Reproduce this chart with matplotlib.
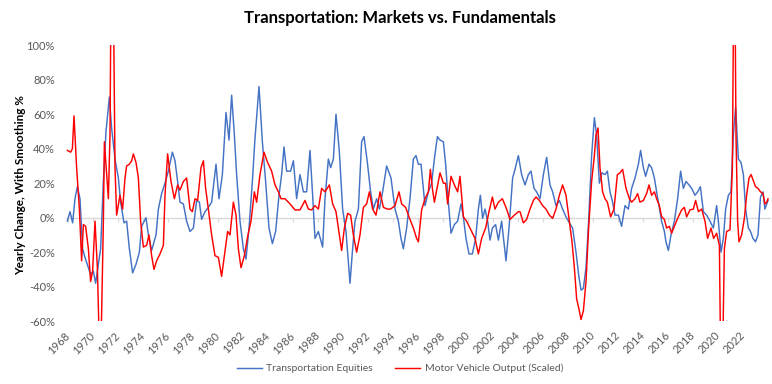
import matplotlib
matplotlib.use("Agg")
import matplotlib.pyplot as plt
from matplotlib.ticker import FuncFormatter


# =====================================================
# DATA (yearly change in %)
# =====================================================
equity_years = [
    1967.95, 1968.16, 1968.37, 1968.56, 1968.75, 1968.96, 1969.17, 1969.36, 1969.63, 1969.81,
    1970.03, 1970.21, 1970.43, 1970.61, 1970.83, 1971.04, 1971.31, 1971.49, 1971.76, 1972.03,
    1972.21, 1972.48, 1972.69, 1972.91, 1973.17, 1973.44, 1973.71, 1973.89, 1974.24, 1974.43,
    1974.69, 1975.04, 1975.23, 1975.49, 1975.76, 1976.03, 1976.35, 1976.56, 1976.77, 1976.96,
    1977.23, 1977.49, 1977.76, 1978.03, 1978.29, 1978.51, 1978.69, 1978.96, 1979.23, 1979.49,
    1979.84, 1980.08, 1980.35, 1980.64, 1980.88, 1981.09, 1981.31, 1981.49, 1981.76, 1982.03,
    1982.24, 1982.48, 1982.75, 1982.96, 1983.28, 1983.55, 1983.81, 1984.08, 1984.35, 1984.61,
    1984.88, 1985.09, 1985.28, 1985.49, 1985.81, 1986.03, 1986.29, 1986.56, 1986.83, 1987.09,
    1987.36, 1987.57, 1987.76, 1988.03, 1988.37, 1988.56, 1988.83, 1989.01, 1989.23, 1989.44,
    1989.71, 1989.97, 1990.24, 1990.56, 1990.77, 1990.96, 1991.23, 1991.49, 1991.68, 1991.95,
    1992.21, 1992.43, 1992.69, 1992.91, 1993.17, 1993.49, 1993.84, 1994.16, 1994.43, 1994.64,
    1994.83, 1995.09, 1995.36, 1995.63, 1995.84, 1996.03, 1996.24, 1996.56, 1996.83, 1997.09,
    1997.31, 1997.55, 1997.76, 1998.03, 1998.21, 1998.43, 1998.64, 1998.91, 1999.17, 1999.44,
    1999.63, 1999.84, 2000.08, 2000.35, 2000.61, 2000.83, 2000.99, 2001.17, 2001.36, 2001.57,
    2001.76, 2001.95, 2002.21, 2002.43, 2002.69, 2003.04, 2003.28, 2003.57, 2003.76, 2004.03,
    2004.29, 2004.56, 2004.83, 2005.04, 2005.28, 2005.49, 2005.76, 2006.03, 2006.29, 2006.56,
    2006.77, 2007.04, 2007.31, 2007.57, 2007.84, 2008.11, 2008.37, 2008.64, 2008.85, 2009.04,
    2009.23, 2009.44, 2009.65, 2009.89, 2010.11, 2010.29, 2010.51, 2010.72, 2010.96, 2011.15,
    2011.36, 2011.57, 2011.76, 2012.03, 2012.29, 2012.56, 2012.83, 2013.09, 2013.36, 2013.63,
    2013.81, 2014.03, 2014.21, 2014.48, 2014.69, 2014.91, 2015.09, 2015.28, 2015.49, 2015.71,
    2015.84, 2016.03, 2016.24, 2016.51, 2016.77, 2017.01, 2017.23, 2017.44, 2017.68, 2017.89,
    2018.16, 2018.37, 2018.59, 2018.83, 2019.09, 2019.36, 2019.63, 2019.89, 2020.03, 2020.24,
    2020.43, 2020.61, 2020.83, 2021.04, 2021.23, 2021.41, 2021.63, 2021.84, 2022.03, 2022.21,
    2022.43, 2022.60, 2022.80, 2023.00, 2023.20, 2023.40, 2023.60, 2023.75, 2023.90, 2024.00,
]
equity_values = [
    -2, 3.5, -3, 11, 18, 11, -18, -23, -29, -33,
    -31, -38, -27, -18, 21, 50, 70, 52, 34, 23,
    9, -3, -2, -18, -32, -27, -20, -5, 0, -10,
    -19, -10, 5, 14, 20, 27, 38, 33, 21, 9,
    8, -2, -8, -6, 10, 9, -1, 3.5, 6, 9,
    31, 11, 25, 61, 45, 71, 48, 25, -2, -18,
    -24, -6, 21, 46, 76, 44, 21, -6, -15, -8,
    13, 25, 41, 27, 27, 33, 11, 25, 15, 15,
    39, 13, -12, -8, -17, 11, 34, 29, 34, 60,
    38, 5, -8, -38, -18, -2, 5, 44, 47, 32,
    15, 5, 11, 5, 15, 30, 23, 5, -2, -12,
    -18, -6, 11, 34, 36, 31, 31, 7, 15, 20,
    34, 47, 45, 44, 31, 9, -9, -4, -2, 8,
    0.5, -12, -21, -21, -12, 5, 13, -0.4, 5, -2,
    -13, -6, -4, -13, -2, -25, -6, 23, 28, 36,
    25, 19, 25, 27, 17, 15, 11, 25, 35, 19,
    15, 7, 10, 5, 0.5, -3, -6, -20, -33, -42,
    -41, -29, -2, 36, 58, 48, 20, 26, 25, 27,
    15, 9, 1.5, 1.5, -5, 7, 5, 17, 23, 31,
    39, 29, 24, 31, 29, 23, 15, 7, -2, -8,
    -14, -19, -10, -2, 11, 27, 17, 21, 19, 17,
    13, 15, 18, 3.5, 1.5, -2, -6, 7, -2, -20,
    -12, 5, 13, 15, 48, 64, 34, 32, 25, 5,
    -6, -8, -12, -14, -10, 12, 15, 5, 8, 10,
]

vehicle_years = [
    1967.95, 1968.21, 1968.35, 1968.48, 1968.69, 1968.91, 1969.09, 1969.23, 1969.41, 1969.63,
    1969.81, 1969.97, 1970.16, 1970.35, 1970.51, 1970.64, 1970.83, 1970.91, 1971.09, 1971.23,
    1971.36, 1971.44, 1971.63, 1971.76, 1971.89, 1972.16, 1972.37, 1972.56, 1972.69, 1972.91,
    1973.09, 1973.23, 1973.44, 1973.63, 1973.81, 1974.03, 1974.29, 1974.48, 1974.69, 1974.88,
    1975.09, 1975.36, 1975.63, 1975.76, 1975.97, 1976.24, 1976.51, 1976.77, 1976.96, 1977.23,
    1977.49, 1977.76, 1977.95, 1978.16, 1978.37, 1978.64, 1978.83, 1979.01, 1979.23, 1979.49,
    1979.76, 1980.03, 1980.29, 1980.51, 1980.77, 1980.96, 1981.23, 1981.44, 1981.63, 1981.84,
    1982.11, 1982.37, 1982.64, 1982.91, 1983.09, 1983.36, 1983.68, 1983.97, 1984.29, 1984.56,
    1984.83, 1985.04, 1985.36, 1985.76, 1986.16, 1986.56, 1986.96, 1987.23, 1987.49, 1987.76,
    1988.03, 1988.29, 1988.56, 1988.91, 1989.17, 1989.44, 1989.63, 1989.89, 1990.11, 1990.37,
    1990.61, 1990.83, 1991.09, 1991.36, 1991.63, 1991.89, 1992.11, 1992.37, 1992.64, 1992.96,
    1993.23, 1993.55, 1993.81, 1994.16, 1994.48, 1994.69, 1995.01, 1995.28, 1995.63, 1995.89,
    1996.03, 1996.29, 1996.56, 1996.83, 1996.99, 1997.15, 1997.31, 1997.57, 1997.76, 1998.03,
    1998.21, 1998.37, 1998.64, 1998.91, 1999.17, 1999.36, 1999.63, 1999.89, 2000.16, 2000.56,
    2000.83, 2001.09, 2001.41, 2001.68, 2001.95, 2002.16, 2002.43, 2002.75, 2003.09, 2003.36,
    2003.71, 2004.03, 2004.16, 2004.43, 2004.69, 2004.96, 2005.23, 2005.44, 2005.71, 2005.97,
    2006.24, 2006.51, 2006.77, 2007.04, 2007.31, 2007.57, 2007.84, 2008.11, 2008.32, 2008.51,
    2008.69, 2008.88, 2009.04, 2009.23, 2009.44, 2009.65, 2009.89, 2010.11, 2010.24, 2010.40,
    2010.56, 2010.77, 2010.96, 2011.15, 2011.41, 2011.68, 2011.95, 2012.16, 2012.37, 2012.64,
    2012.91, 2013.09, 2013.36, 2013.57, 2013.76, 2014.03, 2014.29, 2014.48, 2014.69, 2014.91,
    2015.09, 2015.31, 2015.49, 2015.71, 2015.89, 2016.11, 2016.29, 2016.56, 2016.83, 2017.09,
    2017.31, 2017.49, 2017.76, 2018.03, 2018.21, 2018.43, 2018.69, 2018.96, 2019.17, 2019.44,
    2019.65, 2019.89, 2020.11, 2020.21, 2020.37, 2020.51, 2020.69, 2020.96, 2021.15, 2021.25,
    2021.36, 2021.44, 2021.57, 2021.68, 2021.89, 2022.11, 2022.29, 2022.48, 2022.65, 2022.80,
    2023.00, 2023.20, 2023.40, 2023.60, 2023.75, 2023.90, 2024.00,
]
vehicle_values = [
    39, 38, 40, 59, 29, 5, -25, -4, -5, -18,
    -37, -31, -2, -29, -75, -75, -2, 44, 25, 11,
    48, 130, 130, 29, 1.5, 13, 5, 23, 30, 31,
    33, 37, 32, 23, -2, -17, -16, -10, -22, -30,
    -25, -21, -16, 13, 37, 21, 11, 19, 16, 21,
    23, 5, 3.5, 11, 10, 29, 33, 17, 5, -10,
    -22, -23, -34, -22, -8, -10, 9, 1.5, -18, -29,
    -22, -11, -2, 15, 9, 25, 38, 32, 27, 19,
    15, 11, 11, 8, 4.5, 4.5, 10, 5, 4.5, 7,
    5, 17, 15, 19, 8, 3.5, -6, -19, -6, 2.5,
    1.5, -10, -20, -10, 6, 8, 15, 5, 1.5, 15,
    6, 5, 5, 7, 15, 8, 6, 0.5, -6, -12,
    -14, 4.5, 11, 15, 28, 17, 9, 19, 26, 20,
    20, 8, 24, 19, 15, 24, 0.5, -2, -6, -12,
    -21, -12, -6, 3.5, 12, 5, 9, 11, 5, -1,
    1.5, 3.5, 3.5, -3, -1, 5, 10, 12, 10, 7,
    5, 1.5, -0.4, 5, 13, 19, 13, -2, -14, -29,
    -47, -53, -59, -54, -37, -6, 21, 36, 48, 52,
    29, 15, 11, 9, 0.5, 5, 25, 26, 28, 17,
    11, 9, 11, 14, 9, 10, 14, 19, 13, 15,
    11, 7, 0.5, -1, -6, -5, -9, -4, 0.5, 4.5,
    6, 0.5, 4.5, 5, 10, 3.5, 5, -2, -12, -6,
    -12, -9, -16, -80, -80, -18, -8, -7, 29, 130,
    130, 48, -2, -14, -10, -0.4, 13, 23, 25, 22,
    18, 17, 15, 14, 8, 9, 11,
]

tick_years = list(range(1968, 2023, 2))
y_ticks = [-60, -40, -20, 0, 20, 40, 60, 80, 100]

BLUE = "#4472C4"
RED = "#FF0000"
GREY_TEXT = "#595959"
GRID = "#D9D9D9"

plt.rcParams["font.family"] = ["Lato", "DejaVu Sans"]

# =====================================================
# FIGURE
# =====================================================
fig = plt.figure(figsize=(7.72, 3.84), dpi=100)
ax = fig.add_axes([66 / 772, 1 - 321.2 / 384, 704 / 772, 276 / 384])

ax.plot(equity_years, equity_values, color=BLUE, lw=1.05,
        label="Transportation Equities", zorder=3)
ax.plot(vehicle_years, vehicle_values, color=RED, lw=1.05,
        label="Motor Vehicle Output (Scaled)", zorder=4)

ax.set_xlim(1967.84, 2024.16)
ax.set_ylim(-60, 100)

# y axis
ax.set_yticks(y_ticks)
ax.yaxis.set_major_formatter(FuncFormatter(lambda v, p: f"{int(v)}%"))
ax.tick_params(axis="y", length=0, pad=8, labelsize=8, labelcolor=GREY_TEXT)

# horizontal axis line sits at zero, labels sit at the bottom
for side in ["top", "right", "left"]:
    ax.spines[side].set_visible(False)
ax.spines["bottom"].set_position(("data", 0))
ax.spines["bottom"].set_color(GRID)
ax.spines["bottom"].set_linewidth(1.0)
ax.set_xticks(tick_years)
ax.tick_params(axis="x", length=3, color=GRID, labelbottom=False)

sec = ax.secondary_xaxis("bottom")
sec.set_xticks(tick_years)
sec.set_xticklabels([str(y) for y in tick_years], rotation=45, ha="right",
                    va="center", rotation_mode="anchor")
sec.tick_params(length=0, pad=9, labelsize=8, labelcolor=GREY_TEXT)
sec.spines["bottom"].set_visible(False)

fig.text(0.027, 0.518, "Yearly Change, With Smoothing %", rotation=90,
         ha="center", va="center", fontsize=8.5, fontweight="bold")

fig.text(0.518, 0.952, "Transportation: Markets vs. Fundamentals",
         ha="center", va="center", fontsize=12, fontweight="bold")

fig.legend(loc="center", bbox_to_anchor=(0.518, 0.04), ncol=2, frameon=False,
           fontsize=7.5, labelcolor=GREY_TEXT, handlelength=2.4,
           columnspacing=2.2, handletextpad=0.4)

fig.savefig("out.png", dpi=100)
